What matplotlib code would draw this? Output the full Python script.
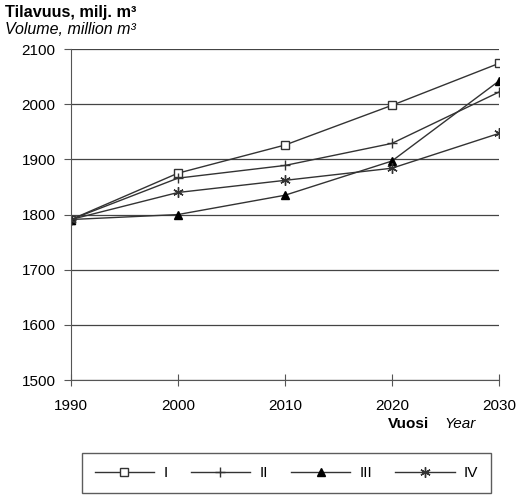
import matplotlib
matplotlib.use("Agg")
import matplotlib.pyplot as plt

plt.rcParams['font.family'] = ['Liberation Sans', 'DejaVu Sans']

years = [1990, 2000, 2010, 2020, 2030]
series_names = ["I", "II", "III", "IV"]
vol_I = [1791, 1875, 1926, 1998, 2074]
vol_II = [1791, 1866, 1889, 1929, 2022]
vol_III = [1791, 1800, 1835, 1897, 2042]
vol_IV = [1791, 1840, 1862, 1884, 1947]
y_ticks = [1500, 1600, 1700, 1800, 1900, 2000, 2100]

fig = plt.figure(figsize=(5.18, 5.01), dpi=100)
ax = fig.add_axes([0.137, 0.2415, 0.826, 0.6605])

lc = "#333333"
ax.plot(years, vol_I, color=lc, lw=1, marker="s", ms=5.5, mfc="white", mec=lc, mew=1, label=series_names[0])
ax.plot(years, vol_II, color=lc, lw=1, marker="+", ms=7.5, mew=1, label=series_names[1])
ax.plot(years, vol_III, color=lc, lw=1, marker="^", ms=6, mfc="black", mec="black", label=series_names[2])
ax.plot(years, vol_IV, color=lc, lw=1, marker=(6, 2, 0), ms=7.5, mew=1, label=series_names[3])

ax.set_xlim(1990, 2030)
ax.set_ylim(1500, 2100)
ax.set_xticks(years)
ax.set_yticks(y_ticks)
ax.yaxis.grid(True, color="#444444", lw=0.9)
ax.set_axisbelow(True)
for s in ["top", "right"]:
    ax.spines[s].set_visible(False)
ax.spines["left"].set_color("#555555")
ax.spines["bottom"].set_color("#555555")
ax.tick_params(axis="x", direction="inout", length=8, pad=10, labelsize=11, color="#555555")
ax.tick_params(axis="y", direction="out", length=5, pad=6, labelsize=11, color="#555555")

fig.text(0.010, 0.976, "Tilavuus, milj. m³", fontsize=11.7, fontweight="bold", va="center")
fig.text(0.010, 0.941, "Volume, million m³", fontsize=11.5, fontstyle="italic", va="center")
fig.text(0.748, 0.153, "Vuosi", fontsize=11, fontweight="bold", va="center")
fig.text(0.858, 0.153, "Year", fontsize=11, fontstyle="italic", va="center")

leg = fig.legend(loc="center", bbox_to_anchor=(0.553, 0.055), ncol=4, handlelength=3.9,
                 fontsize=11, frameon=True, fancybox=False, edgecolor="#333333",
                 borderpad=0.85, columnspacing=1.5, handletextpad=0.6)
leg.get_frame().set_linewidth(1)

fig.savefig("out.png", dpi=100)
